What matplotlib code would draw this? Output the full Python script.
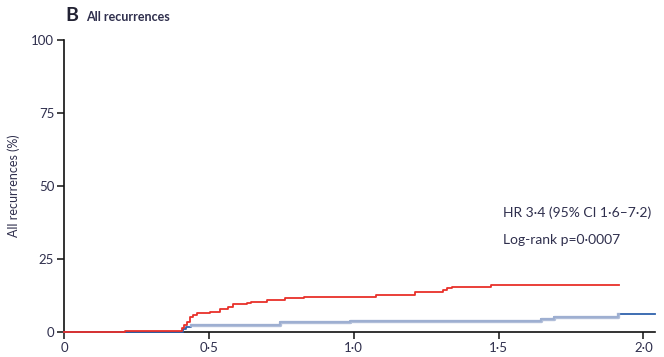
import matplotlib.pyplot as plt

# Kaplan-Meier style cumulative recurrence curves
red_t = [0, 0.21, 0.406, 0.414, 0.425, 0.434, 0.444, 0.46, 0.503, 0.538,
         0.567, 0.584, 0.632, 0.647, 0.699, 0.762, 0.828, 1.076, 1.21,
         1.308, 1.322, 1.34, 1.475, 1.915]
red_y = [0, 0.4, 1.3, 2.4, 3.5, 5.0, 5.8, 6.6, 7.0, 7.8,
         8.7, 9.5, 10.0, 10.4, 11.0, 11.5, 12.1, 12.8, 13.6,
         14.4, 15.0, 15.5, 16.0, 16.0]

blue_t = [0, 0.41, 0.42, 0.44, 0.745, 0.986, 1.647, 1.693, 1.911, 2.04]
blue_y = [0, 0.9, 1.6, 2.5, 3.3, 3.8, 4.5, 5.2, 6.2, 6.2]

xticks = [0, 0.5, 1.0, 1.5, 2.0]
xtick_labels = ["0", "0\u00b75", "1\u00b70", "1\u00b75", "2\u00b70"]
yticks = [0, 25, 50, 75, 100]

txt_col = "#2f2f4d"
plt.rcParams["font.family"] = ["Lato", "DejaVu Sans"]

fig = plt.figure(figsize=(6.64, 3.57), dpi=100)
ax = fig.add_axes([0.0964, 0.070, 0.890, 0.818])

ax.plot(blue_t, blue_y, drawstyle="steps-post", color="#2f62ad", lw=1.3,
        zorder=3, clip_on=False)
ax.plot(blue_t[3:9], blue_y[3:9], drawstyle="steps-post", color="#a9b7d5",
        lw=2.4, alpha=0.9, zorder=3, clip_on=False)
ax.plot(red_t, red_y, drawstyle="steps-post", color="#e8302a", lw=1.3,
        zorder=4, clip_on=False)

ax.set_xlim(0, 2.04)
ax.set_ylim(0, 100)
ax.set_xticks(xticks)
ax.set_xticklabels(xtick_labels)
ax.set_yticks(yticks)

for s in ["top", "right"]:
    ax.spines[s].set_visible(False)
for s in ["left", "bottom"]:
    ax.spines[s].set_linewidth(1.2)
    ax.spines[s].set_color("#111111")
    ax.spines[s].set_zorder(2)
ax.tick_params(axis="both", direction="out", length=5, width=1.1,
               colors="#111111", labelcolor=txt_col, labelsize=9.5, pad=2)

ax.set_ylabel("All recurrences (%)", fontsize=9, color=txt_col, labelpad=8)

fig.text(0.099, 0.94, "B", fontsize=14, fontweight="bold", color="#222233")
fig.text(0.129, 0.94, "All recurrences", fontsize=9, fontweight="bold",
         color=txt_col)

ax.text(1.515, 39.5, "HR 3\u00b74 (95% CI 1\u00b76\u20137\u00b72)", fontsize=10,
        color=txt_col)
ax.text(1.515, 30, "Log-rank p=0\u00b70007", fontsize=10, color=txt_col)

fig.savefig("out.png", dpi=100)
